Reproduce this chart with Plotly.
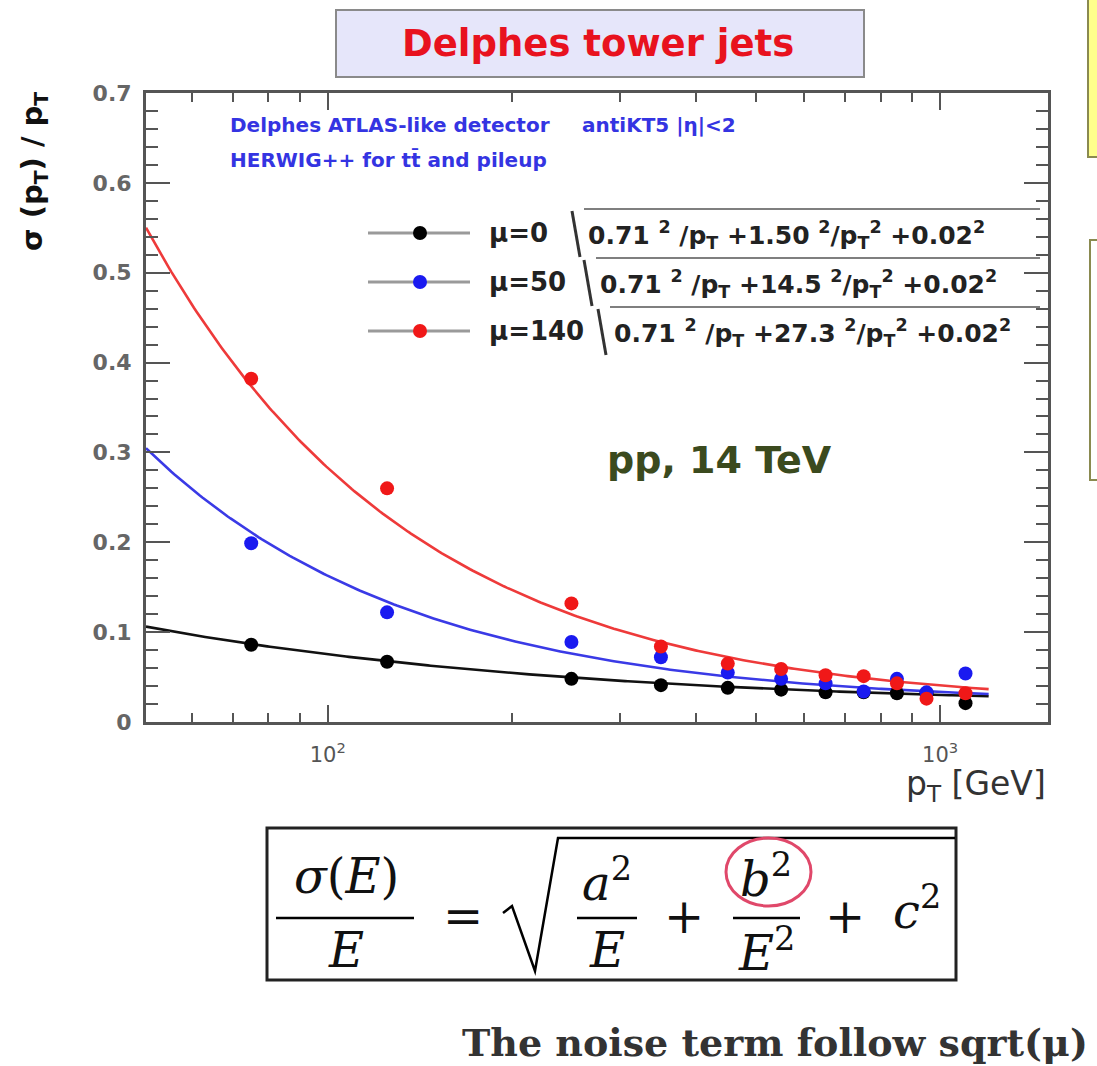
import numpy as np
import plotly.graph_objects as go

# ---------------- data ----------------
pt = [75, 125, 250, 350, 450, 550, 650, 750, 850, 950, 1100]
res_mu0 = [0.086, 0.067, 0.048, 0.041, 0.038, 0.036, 0.033, 0.033, 0.032, 0.032, 0.021]
res_mu50 = [0.199, 0.122, 0.089, 0.072, 0.055, 0.048, 0.043, 0.034, 0.048, 0.033, 0.054]
res_mu140 = [0.382, 0.260, 0.132, 0.084, 0.065, 0.059, 0.052, 0.051, 0.043, 0.026, 0.032]
series_names = ["μ=0", "μ=50", "μ=140"]
fit_a = [0.71, 0.71, 0.71]
fit_b = [1.50, 14.5, 27.3]
fit_c = [0.02, 0.02, 0.02]
fit_b_text = ["1.50", "14.5", "27.3"]
fit_range = [50.5, 1200]
x_tickvals = [100, 1000]
x_ticktext = ["10<sup>2</sup>", "10<sup>3</sup>"]
x_minor = [60, 70, 80, 90, 200, 300, 400, 500, 600, 700, 800, 900]

colors = ["#000000", "#1a1af0", "#f01818"]
curve_colors = ["#111111", "#3a3ae6", "#ee3a3a"]

# ---------------- geometry helpers ----------------
W, H = 1097, 1066
L, R, T, B = 146, 49, 93, 344
PW, PH = W - L - R, H - T - B
def px(x):
    return (x - L) / PW
def py(y):
    return (H - B - y) / PH

SANS = "DejaVu Sans"
SERIF = "DejaVu Serif"

fig = go.Figure()

all_res = [res_mu0, res_mu50, res_mu140]
xf = np.logspace(np.log10(fit_range[0]), np.log10(fit_range[1]), 300)
for i in range(3):
    yf = np.sqrt(fit_a[i] ** 2 / xf + fit_b[i] ** 2 / xf ** 2 + fit_c[i] ** 2)
    fig.add_trace(go.Scatter(x=xf, y=yf, mode="lines",
                             line=dict(color=curve_colors[i], width=2.6),
                             showlegend=False, hoverinfo="skip"))
for i in range(3):
    fig.add_trace(go.Scatter(x=pt, y=all_res[i], mode="markers",
                             marker=dict(color=colors[i], size=14),
                             name=series_names[i], showlegend=False))

axis_col = "#555555"
fig.update_xaxes(type="log", range=[np.log10(50.5), np.log10(1500)],
                 tickmode="array", tickvals=x_tickvals, ticktext=x_ticktext,
                 ticks="inside", ticklen=17, tickwidth=2, tickcolor=axis_col,
                 minor=dict(tickmode="array", tickvals=x_minor, ticks="inside",
                            ticklen=9, tickwidth=2, tickcolor=axis_col),
                 showline=True, linecolor=axis_col, linewidth=3, mirror="allticks",
                 showgrid=False, zeroline=False, ticklabelstandoff=12,
                 tickfont=dict(family=SANS, size=21, color="#555"))
fig.update_yaxes(range=[0, 0.7], dtick=0.1, tick0=0,
                 ticks="inside", ticklen=24, tickwidth=2, tickcolor=axis_col,
                 minor=dict(dtick=0.02, ticks="inside", ticklen=12, tickwidth=2,
                            tickcolor=axis_col),
                 showline=True, linecolor=axis_col, linewidth=3, mirror="allticks",
                 showgrid=False, zeroline=False, ticklabelstandoff=7,
                 tickfont=dict(family=SANS, size=22, color="#666", weight="bold"))

shapes = []
ann = []

def text(x, y, s, size, color="#111", family=SANS, weight="normal",
         xanchor="center", yanchor="middle", angle=0):
    ann.append(dict(x=px(x), y=py(y), xref="paper", yref="paper", text=s,
                    showarrow=False, xanchor=xanchor, yanchor=yanchor,
                    textangle=angle,
                    font=dict(family=family, size=size, color=color, weight=weight)))

def line(x0, y0, x1, y1, color="#000", width=2.5):
    shapes.append(dict(type="line", xref="paper", yref="paper",
                       x0=px(x0), y0=py(y0), x1=px(x1), y1=py(y1),
                       line=dict(color=color, width=width)))

def path(pts, color="#000", width=2.5):
    d = "M " + " L ".join(f"{px(a):.5f},{py(b):.5f}" for a, b in pts)
    shapes.append(dict(type="path", xref="paper", yref="paper", path=d,
                       line=dict(color=color, width=width)))

def rect(x0, y0, x1, y1, fill, lc, lw=2):
    shapes.append(dict(type="rect", xref="paper", yref="paper",
                       x0=px(x0), y0=py(y0), x1=px(x1), y1=py(y1),
                       fillcolor=fill, line=dict(color=lc, width=lw), layer="above"))

# --- slide fragments on right
rect(1088, -10, 1115, 157, "#ffff8c", "#8a8a50", 2)
rect(1090, 240, 1115, 480, "#ffffff", "#8a8a50", 2)

# --- title box
rect(336, 10, 864, 77, "#e6e6fa", "#8a8a8a", 2)
text(598, 44, "Delphes tower jets", 37, color="#e8121e", weight="bold")

# --- axis titles
text(34, 172, "σ (p<sub>T</sub>) / p<sub>T</sub>", 29, color="#111", weight="bold", angle=-90)
text(1048, 785, "p<sub>T</sub> [GeV]", 33, color="#333", xanchor="right")

# --- in-plot texts
blue_txt = "#3434e2"
text(228, 125, "Delphes ATLAS-like detector", 20, color=blue_txt, weight="bold", xanchor="left")
text(580, 125, "antiKT5 |η|&lt;2", 20, color=blue_txt, weight="bold", xanchor="left")
text(228, 160, "HERWIG++ for tt\u0304 and pileup", 20, color=blue_txt, weight="bold", xanchor="left")
text(719, 460, "pp, 14 TeV", 38, color="#3b4a1e", weight="bold")

# --- legend
rows = [233, 282, 331]
for i in range(3):
    yr = rows[i]
    line(368, yr, 470, yr, color="#9a9a9a", width=3)
    shapes.append(dict(type="circle", xref="paper", yref="paper",
                       xsizemode="pixel", ysizemode="pixel",
                       xanchor=px(420), yanchor=py(yr),
                       x0=-7, x1=7, y0=-7, y1=7,
                       fillcolor=colors[i], line=dict(width=0)))
    text(487, yr, series_names[i], 26, color="#222", weight="bold", xanchor="left")
    x0 = 572 if i == 0 else 584 if i == 1 else 598
    path([(x0, yr - 22), (x0 + 8, yr + 24)], color="#333", width=3)
    line(x0 + 12, yr - 24, 1040, yr - 24, color="#555", width=1.5)
    formula = (f"{fit_a[i]:.2f} <sup>2</sup> /p<sub>T</sub> +{fit_b_text[i]} "
               f"<sup>2</sup>/p<sub>T</sub><sup>2</sup> +{fit_c[i]:.2f}<sup>2</sup>")
    text(x0 + 14, yr + 2, formula, 25, color="#222", weight="bold", xanchor="left")

# --- bottom formula box
rect(267, 828, 956, 980, "rgba(0,0,0,0)", "#222", 3)
fs = 48
text(346, 876, "<i>σ</i>(<i>E</i>)", fs, family=SERIF)
line(276, 918, 414, 918, width=2.5)
text(346, 950, "<i>E</i>", fs, family=SERIF)
text(463, 916, "=", fs, family=SERIF)
path([(503, 913), (512, 906), (535, 971), (558, 838), (955, 838)], width=2.5)
text(607, 880, "<i>a</i><sup>2</sup>", fs, family=SERIF)
line(577, 918, 637, 918, width=2.5)
text(607, 950, "<i>E</i>", fs, family=SERIF)
text(684, 916, "+", fs, family=SERIF)
text(766, 876, "<i>b</i><sup>2</sup>", fs, family=SERIF)
line(733, 918, 800, 918, width=2.5)
text(766, 950, "<i>E</i><sup>2</sup>", fs, family=SERIF)
shapes.append(dict(type="circle", xref="paper", yref="paper",
                   x0=px(726), x1=px(811), y0=py(906), y1=py(838),
                   line=dict(color="#e0486a", width=3)))
text(845, 916, "+", fs, family=SERIF)
text(917, 908, "<i>c</i><sup>2</sup>", fs, family=SERIF)

# --- caption
text(1090, 1042, "The noise term follow sqrt(μ)", 38, color="#333",
     family=SERIF, weight="bold", xanchor="right")

fig.update_layout(width=W, height=H, margin=dict(l=L, r=R, t=T, b=B, autoexpand=False),
                  paper_bgcolor="white", plot_bgcolor="white",
                  shapes=shapes, annotations=ann, showlegend=False)

fig.write_html("out.html")
